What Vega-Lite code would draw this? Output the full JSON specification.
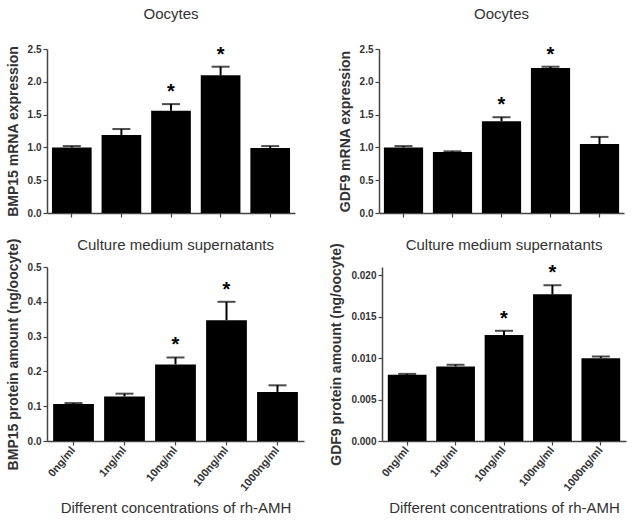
{
  "$schema": "https://vega.github.io/schema/vega-lite/v6.json",
  "padding": {"left": 6, "top": 7, "right": 5, "bottom": 4},
  "background": "white",
  "spacing": 18,
  "datasets": {
    "rows": [
      {"panel": "A", "conc": "0ng/ml", "value": 1.00, "top": 1.02, "sig": ""},
      {"panel": "A", "conc": "1ng/ml", "value": 1.19, "top": 1.28, "sig": ""},
      {"panel": "A", "conc": "10ng/ml", "value": 1.56, "top": 1.66, "sig": "*"},
      {"panel": "A", "conc": "100ng/ml", "value": 2.10, "top": 2.23, "sig": "*"},
      {"panel": "A", "conc": "1000ng/ml", "value": 0.99, "top": 1.02, "sig": ""},
      {"panel": "B", "conc": "0ng/ml", "value": 1.00, "top": 1.02, "sig": ""},
      {"panel": "B", "conc": "1ng/ml", "value": 0.93, "top": 0.94, "sig": ""},
      {"panel": "B", "conc": "10ng/ml", "value": 1.40, "top": 1.46, "sig": "*"},
      {"panel": "B", "conc": "100ng/ml", "value": 2.21, "top": 2.23, "sig": "*"},
      {"panel": "B", "conc": "1000ng/ml", "value": 1.05, "top": 1.16, "sig": ""},
      {"panel": "C", "conc": "0ng/ml", "value": 0.106, "top": 0.109, "sig": ""},
      {"panel": "C", "conc": "1ng/ml", "value": 0.128, "top": 0.136, "sig": ""},
      {"panel": "C", "conc": "10ng/ml", "value": 0.220, "top": 0.240, "sig": "*"},
      {"panel": "C", "conc": "100ng/ml", "value": 0.347, "top": 0.400, "sig": "*"},
      {"panel": "C", "conc": "1000ng/ml", "value": 0.141, "top": 0.160, "sig": ""},
      {"panel": "D", "conc": "0ng/ml", "value": 0.0080, "top": 0.0081, "sig": ""},
      {"panel": "D", "conc": "1ng/ml", "value": 0.0090, "top": 0.0092, "sig": ""},
      {"panel": "D", "conc": "10ng/ml", "value": 0.0128, "top": 0.0133, "sig": "*"},
      {"panel": "D", "conc": "100ng/ml", "value": 0.0177, "top": 0.0188, "sig": "*"},
      {"panel": "D", "conc": "1000ng/ml", "value": 0.0100, "top": 0.0102, "sig": ""}
    ]
  },
  "data": {"name": "rows"},
  "vconcat": [
    {
      "spacing": 43,
      "hconcat": [
        {
          "width": 248, "height": 164,
          "title": {"text": "Oocytes", "offset": 22},
          "transform": [{"filter": "datum.panel === 'A'"}],
          "encoding": {
            "x": {"field": "conc", "type": "nominal", "sort": null,
                  "scale": {"paddingInner": 0.2, "paddingOuter": 0.1},
                  "axis": {"labels": false, "title": null}}
          },
          "layer": [
            {"mark": {"type": "bar", "color": "black"},
             "encoding": {"y": {"field": "value", "type": "quantitative",
               "scale": {"domain": [0, 2.5], "nice": false},
               "axis": {"values": [0, 0.5, 1, 1.5, 2, 2.5], "tickCount": 20, "format": ".1f", "labelOverlap": false, "title": "BMP15 mRNA expression"}}}},
            {"mark": {"type": "rule", "color": "black", "strokeWidth": 2},
             "encoding": {"y": {"field": "value", "type": "quantitative"}, "y2": {"field": "top"}}},
            {"mark": {"type": "tick", "color": "black", "thickness": 2, "size": 18},
             "encoding": {"y": {"field": "top", "type": "quantitative"}}},
            {"mark": {"type": "text", "fontSize": 20, "fontWeight": "bold", "baseline": "middle", "dy": -12, "color": "black"},
             "encoding": {"y": {"field": "top", "type": "quantitative"}, "text": {"field": "sig"}}}
          ]
        },
        {
          "width": 245, "height": 164,
          "title": {"text": "Oocytes", "offset": 22},
          "transform": [{"filter": "datum.panel === 'B'"}],
          "encoding": {
            "x": {"field": "conc", "type": "nominal", "sort": null,
                  "scale": {"paddingInner": 0.2, "paddingOuter": 0.1},
                  "axis": {"labels": false, "title": null}}
          },
          "layer": [
            {"mark": {"type": "bar", "color": "black"},
             "encoding": {"y": {"field": "value", "type": "quantitative",
               "scale": {"domain": [0, 2.5], "nice": false},
               "axis": {"values": [0, 0.5, 1, 1.5, 2, 2.5], "tickCount": 20, "format": ".1f", "labelOverlap": false, "title": "GDF9 mRNA expression"}}}},
            {"mark": {"type": "rule", "color": "black", "strokeWidth": 2},
             "encoding": {"y": {"field": "value", "type": "quantitative"}, "y2": {"field": "top"}}},
            {"mark": {"type": "tick", "color": "black", "thickness": 2, "size": 18},
             "encoding": {"y": {"field": "top", "type": "quantitative"}}},
            {"mark": {"type": "text", "fontSize": 20, "fontWeight": "bold", "baseline": "middle", "dy": -12, "color": "black"},
             "encoding": {"y": {"field": "top", "type": "quantitative"}, "text": {"field": "sig"}}}
          ]
        }
      ]
    },
    {
      "spacing": 25,
      "hconcat": [
        {
          "width": 257, "height": 174,
          "title": {"text": "Culture medium supernatants", "offset": -17},
          "transform": [{"filter": "datum.panel === 'C'"}],
          "encoding": {
            "x": {"field": "conc", "type": "nominal", "sort": null,
                  "scale": {"paddingInner": 0.2, "paddingOuter": 0.12},
                  "axis": {"labelAngle": -50, "title": "Different concentrations of rh-AMH"}}
          },
          "layer": [
            {"mark": {"type": "bar", "color": "black"},
             "encoding": {"y": {"field": "value", "type": "quantitative",
               "scale": {"domain": [0, 0.5], "nice": false},
               "axis": {"values": [0, 0.1, 0.2, 0.3, 0.4, 0.5], "tickCount": 20, "format": ".1f", "labelOverlap": false, "title": "BMP15  protein amount (ng/oocyte)"}}}},
            {"mark": {"type": "rule", "color": "black", "strokeWidth": 2},
             "encoding": {"y": {"field": "value", "type": "quantitative"}, "y2": {"field": "top"}}},
            {"mark": {"type": "tick", "color": "black", "thickness": 2, "size": 18},
             "encoding": {"y": {"field": "top", "type": "quantitative"}}},
            {"mark": {"type": "text", "fontSize": 20, "fontWeight": "bold", "baseline": "middle", "dy": -12, "color": "black"},
             "encoding": {"y": {"field": "top", "type": "quantitative"}, "text": {"field": "sig"}}}
          ]
        },
        {
          "width": 244, "height": 174,
          "title": {"text": "Culture medium supernatants", "offset": -10},
          "transform": [{"filter": "datum.panel === 'D'"}],
          "encoding": {
            "x": {"field": "conc", "type": "nominal", "sort": null,
                  "scale": {"paddingInner": 0.2, "paddingOuter": 0.12},
                  "axis": {"labelAngle": -50, "title": "Different concentrations of rh-AMH"}}
          },
          "layer": [
            {"mark": {"type": "bar", "color": "black"},
             "encoding": {"y": {"field": "value", "type": "quantitative",
               "scale": {"domain": [0, 0.021], "nice": false},
               "axis": {"values": [0, 0.005, 0.01, 0.015, 0.02], "tickCount": 20, "format": ".3f", "labelOverlap": false, "title": "GDF9 protein amount (ng/oocyte)"}}}},
            {"mark": {"type": "rule", "color": "black", "strokeWidth": 2},
             "encoding": {"y": {"field": "value", "type": "quantitative"}, "y2": {"field": "top"}}},
            {"mark": {"type": "tick", "color": "black", "thickness": 2, "size": 18},
             "encoding": {"y": {"field": "top", "type": "quantitative"}}},
            {"mark": {"type": "text", "fontSize": 20, "fontWeight": "bold", "baseline": "middle", "dy": -12, "color": "black"},
             "encoding": {"y": {"field": "top", "type": "quantitative"}, "text": {"field": "sig"}}}
          ]
        }
      ]
    }
  ],
  "config": {
    "font": "Liberation Sans",
    "view": {"stroke": null},
    "title": {"fontSize": 15, "fontWeight": "normal", "color": "#333", "frame": "group"},
    "axis": {
      "grid": false,
      "labelOverlap": false,
      "domainColor": "#444", "domainWidth": 1.5,
      "tickColor": "#444", "tickWidth": 1.2, "tickSize": 4,
      "labelFont": "Liberation Sans", "labelFontSize": 10, "labelFontWeight": "bold", "labelColor": "#333",
      "titleFont": "Liberation Sans", "titleColor": "#333"
    },
    "axisY": {"titleFontSize": 14, "titleFontWeight": "bold", "titlePadding": 7},
    "axisX": {"titleFontSize": 15, "titleFontWeight": "normal", "titlePadding": 8, "labelPadding": 3, "labelFontSize": 11}
  }
}
